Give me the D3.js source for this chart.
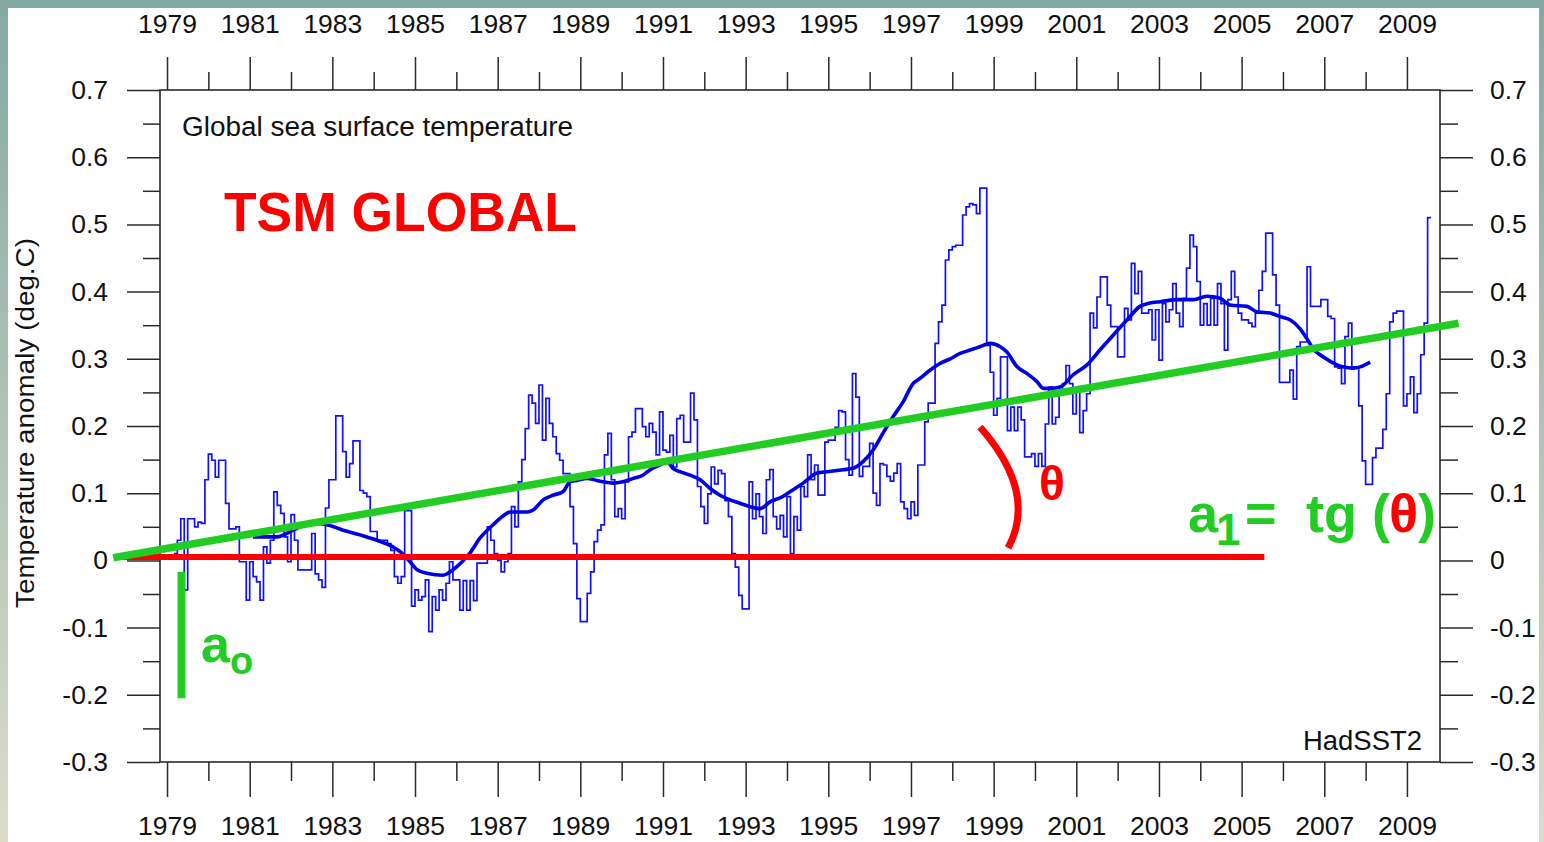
<!DOCTYPE html>
<html>
<head>
<meta charset="utf-8">
<script src="https://cdn.jsdelivr.net/npm/d3@7"></script>
<style>
  html, body { margin: 0; padding: 0; background: #ffffff; }
  svg { display: block; }
  text { font-family: "Liberation Sans", Arial, sans-serif; }
</style>
</head>
<body>
<script>
// HadSST2 global sea surface temperature anomaly (deg C), monthly, from March 1979
const startYear = 1979;
const startMonth = 3;
const sstMonthly = [
  0.01, 0.03, 0.062, -0.044, 0.062, 0.062, 0.05, 0.057, 0.055, 0.12,
  0.158, 0.149, 0.124, 0.149, 0.149, 0.085, 0.047, 0.047, 0.05, -0.002,
  -0.002, -0.059, -0.002, -0.024, -0.032, -0.059, 0.02, -0.004, 0.03, 0.102,
  0.082, 0.07, 0.035, -0.002, 0.068, 0.03, -0.014, -0.014, -0.014, -0.014,
  0.04, -0.02, -0.029, -0.04, 0.078, 0.12, 0.12, 0.215, 0.215, 0.162,
  0.124, 0.144, 0.178, 0.178, 0.104, 0.1, 0.095, 0.043, 0.043, 0.03,
  0.03, 0.03, 0.025, 0.015, -0.024, -0.034, -0.024, 0.074, 0.074, -0.068,
  -0.044, -0.059, -0.054, -0.029, -0.106, -0.054, -0.074, -0.044, -0.059, -0.034,
  -0.002, -0.029, -0.029, -0.074,
  -0.03, -0.074, -0.03, -0.06, -0.004, -0.004, -0.004, 0.05, 0.03, 0.01,
  0.0, -0.017, -0.002, 0.01, 0.08, 0.05, 0.117, 0.15, 0.196, 0.246,
  0.234, 0.204, 0.261, 0.179, 0.241, 0.204, 0.184, 0.159, 0.149, 0.129,
  0.129, 0.08, 0.025, -0.057, -0.091, -0.091, -0.049, -0.017, 0.028, 0.045,
  0.053, 0.157, 0.189, 0.12, 0.065, 0.077, 0.062, 0.117, 0.184, 0.191,
  0.226, 0.226, 0.199, 0.184, 0.204, 0.191, 0.157, 0.221, 0.164, 0.161,
  0.186, 0.139, 0.211, 0.216, 0.176, 0.176, 0.249, 0.209, 0.11, 0.08,
  0.055, 0.099, 0.139, 0.114, 0.134, 0.129, 0.089, 0.065, 0.01, -0.01,
  -0.052, -0.072, -0.072, 0.117, 0.062, 0.099, 0.065,
  0.04, 0.12, 0.135, 0.065, 0.047, 0.067, 0.035, 0.095, 0.01, 0.065,
  0.045, 0.11, 0.095, 0.157, 0.12, 0.142, 0.097, 0.097, 0.176, 0.179,
  0.179, 0.198, 0.223, 0.221, 0.15, 0.127, 0.278, 0.243, 0.125, 0.14,
  0.14, 0.174, 0.1, 0.082, 0.144, 0.142, 0.125, 0.118, 0.13, 0.144,
  0.087, 0.077, 0.062, 0.087, 0.067, 0.142, 0.142, 0.206, 0.234, 0.234,
  0.323, 0.355, 0.38, 0.447, 0.462, 0.467, 0.469, 0.469, 0.514, 0.526,
  0.531, 0.529, 0.516, 0.554, 0.554, 0.32, 0.28, 0.216, 0.241, 0.303,
  0.303, 0.193, 0.228, 0.193, 0.228, 0.209, 0.154, 0.154, 0.159, 0.14,
  0.159, 0.14, 0.203, 0.258, 0.203, 0.213, 0.248,
  0.263, 0.29, 0.263, 0.218, 0.253, 0.19, 0.223, 0.248, 0.368, 0.346,
  0.392, 0.422, 0.422, 0.38, 0.348, 0.348, 0.303, 0.303, 0.375, 0.358,
  0.442, 0.397, 0.43, 0.368, 0.368, 0.373, 0.328, 0.373, 0.298, 0.382,
  0.355, 0.373, 0.412, 0.368, 0.348, 0.39, 0.435, 0.484, 0.467, 0.415,
  0.35, 0.382, 0.35, 0.39, 0.35, 0.412, 0.382, 0.313, 0.388, 0.43,
  0.392, 0.368, 0.358, 0.358, 0.353, 0.348, 0.368, 0.402, 0.43, 0.487,
  0.487, 0.425, 0.38, 0.265, 0.265, 0.265, 0.283, 0.24, 0.318, 0.325,
  0.325, 0.437, 0.378, 0.378, 0.378, 0.388, 0.388, 0.363, 0.36, 0.288,
  0.286, 0.263, 0.333, 0.353, 0.288, 0.288, 0.23, 0.148, 0.113, 0.113,
  0.153, 0.167, 0.167, 0.195, 0.248, 0.355, 0.368, 0.371, 0.371, 0.23,
  0.248, 0.273, 0.22, 0.248, 0.306, 0.353, 0.51
];

// Running mean of the monthly series
const smoothYears = [
  1981.08, 1981.66, 1982.05, 1982.22, 1982.63, 1982.87, 1983.26, 1983.67, 1984.08, 1984.47,
  1984.64, 1984.88, 1985.05, 1985.29, 1985.68, 1985.85, 1986.02, 1986.33, 1986.57, 1986.89,
  1987.13, 1987.30, 1987.71, 1987.86, 1988.10, 1988.34, 1988.58, 1988.75, 1988.92, 1989.16,
  1989.40, 1989.55, 1989.79, 1990.03, 1990.28, 1990.52, 1990.69, 1990.93, 1991.10, 1991.24,
  1991.41, 1991.65, 1991.90, 1992.14, 1992.38, 1992.62, 1992.86, 1993.11, 1993.35, 1993.59,
  1993.90, 1994.07, 1994.39, 1994.73, 1994.97, 1995.36, 1995.60, 1995.84, 1996.08, 1996.32,
  1996.57, 1996.81, 1997.05, 1997.22, 1997.46, 1997.70, 1997.95, 1998.19, 1998.43, 1998.67,
  1998.91, 1999.16, 1999.32, 1999.57, 1999.81, 2000.05, 2000.20, 2000.37, 2000.61, 2000.92,
  2001.26, 2001.57, 2001.89, 2002.23, 2002.54, 2002.78, 2003.03, 2003.44, 2003.83, 2004.16,
  2004.48, 2004.72, 2005.13, 2005.37, 2005.69, 2005.93, 2006.17, 2006.41, 2006.58, 2006.73,
  2006.97, 2007.31, 2007.45, 2007.70, 2007.87, 2008.11
];
const smoothValues = [
  0.035, 0.035, 0.045, 0.050, 0.055, 0.053, 0.045, 0.038, 0.030, 0.020,
  0.013, -0.002, -0.014, -0.019, -0.022, -0.017, -0.009, 0.011, 0.033, 0.053,
  0.066, 0.072, 0.072, 0.075, 0.090, 0.097, 0.102, 0.117, 0.119, 0.122,
  0.119, 0.117, 0.115, 0.117, 0.122, 0.127, 0.135, 0.142, 0.147, 0.137,
  0.132, 0.127, 0.120, 0.107, 0.097, 0.090, 0.085, 0.080, 0.077, 0.087,
  0.095, 0.102, 0.115, 0.130, 0.132, 0.135, 0.137, 0.147, 0.164, 0.189,
  0.214, 0.236, 0.263, 0.271, 0.283, 0.293, 0.300, 0.308, 0.313, 0.318,
  0.323, 0.318, 0.310, 0.288, 0.278, 0.266, 0.256, 0.256, 0.258, 0.276,
  0.291, 0.313, 0.335, 0.358, 0.378, 0.383, 0.385, 0.388, 0.388, 0.393,
  0.390, 0.380, 0.378, 0.370, 0.368, 0.363, 0.358, 0.345, 0.330, 0.315,
  0.303, 0.291, 0.288, 0.286, 0.288, 0.295
];

// Linear trend (green) and horizontal reference (red)
const trendYears = [1977.70, 2010.25];
const trendValues = [0.004, 0.353];
const baseYears = [1977.93, 2005.55];
const baseValue = 0.005;

// Axis ticks
const majorYears = d3.range(1979, 2010, 2);
const minorYears = d3.range(1980, 2009, 2);
const yMajor = [-0.3, -0.2, -0.1, 0, 0.1, 0.2, 0.3, 0.4, 0.5, 0.6, 0.7];
const yMinor = [-0.25, -0.15, -0.05, 0.05, 0.15, 0.25, 0.35, 0.45, 0.55, 0.65];

const W = 1544, H = 842;
const plot = { left: 160, right: 1440, top: 90, bottom: 762 };

const x = d3.scaleLinear().domain([1978.83, 2009.8]).range([plot.left, plot.right]);
const y = d3.scaleLinear().domain([-0.3, 0.7]).range([plot.bottom, plot.top]);

const svg = d3.select("body").append("svg").attr("width", W).attr("height", H);

// Slide frame
const defs = svg.append("defs");
const grad = defs.append("linearGradient").attr("id", "frame").attr("x1", 0).attr("y1", 0).attr("x2", 0).attr("y2", 1);
grad.append("stop").attr("offset", "0%").attr("stop-color", "#84a9a3");
grad.append("stop").attr("offset", "100%").attr("stop-color", "#dcdcc9");
svg.append("rect").attr("width", W).attr("height", H).attr("fill", "url(#frame)");
svg.append("rect").attr("width", W).attr("height", 8).attr("fill", "#84a9a3");
svg.append("rect").attr("x", 8).attr("y", 8).attr("width", 1531).attr("height", H - 8).attr("fill", "#ffffff");

const axisColor = "#2a2a2a";
const fmtY = v => (Math.abs(v) < 1e-9 ? "0" : v.toFixed(1));

function styleAxis(g) {
  g.select(".domain").remove();
  g.selectAll("line").attr("stroke", axisColor).attr("stroke-width", 1.5);
  g.selectAll("text").attr("fill", "#111").attr("font-size", 26.5)
    .attr("font-family", '"Liberation Sans", Arial, sans-serif');
}

// Left axis
svg.append("g").attr("transform", `translate(${plot.left},0)`)
  .call(d3.axisLeft(y).tickValues(yMajor).tickSize(33).tickPadding(19).tickFormat(fmtY)).call(styleAxis);
svg.append("g").attr("transform", `translate(${plot.left},0)`)
  .call(d3.axisLeft(y).tickValues(yMinor).tickSize(17).tickFormat("")).call(styleAxis);
// Right axis
svg.append("g").attr("transform", `translate(${plot.right},0)`)
  .call(d3.axisRight(y).tickValues(yMajor).tickSize(33).tickPadding(17).tickFormat(fmtY)).call(styleAxis);
svg.append("g").attr("transform", `translate(${plot.right},0)`)
  .call(d3.axisRight(y).tickValues(yMinor).tickSize(18).tickFormat("")).call(styleAxis);
// Top axis
svg.append("g").attr("transform", `translate(0,${plot.top})`)
  .call(d3.axisTop(x).tickValues(majorYears).tickSize(33).tickPadding(24).tickFormat(d3.format("d"))).call(styleAxis);
svg.append("g").attr("transform", `translate(0,${plot.top})`)
  .call(d3.axisTop(x).tickValues(minorYears).tickSize(18).tickFormat("")).call(styleAxis);
// Bottom axis
svg.append("g").attr("transform", `translate(0,${plot.bottom})`)
  .call(d3.axisBottom(x).tickValues(majorYears).tickSize(35).tickPadding(19).tickFormat(d3.format("d"))).call(styleAxis);
svg.append("g").attr("transform", `translate(0,${plot.bottom})`)
  .call(d3.axisBottom(x).tickValues(minorYears).tickSize(19).tickFormat("")).call(styleAxis);

// Plot frame
svg.append("rect")
  .attr("x", plot.left).attr("y", plot.top)
  .attr("width", plot.right - plot.left).attr("height", plot.bottom - plot.top)
  .attr("fill", "none").attr("stroke", axisColor).attr("stroke-width", 1.6);

// Y axis title
svg.append("text")
  .attr("transform", "translate(34,423) rotate(-90)")
  .attr("text-anchor", "middle").attr("font-size", 26).attr("fill", "#111")
  .attr("textLength", 370).attr("lengthAdjust", "spacingAndGlyphs")
  .text("Temperature anomaly (deg.C)");

// Titles inside the plot
svg.append("text").attr("x", 182).attr("y", 136).attr("font-size", 27).attr("fill", "#111")
  .attr("textLength", 391).attr("lengthAdjust", "spacingAndGlyphs")
  .text("Global sea surface temperature");
svg.append("text").attr("x", 1422).attr("y", 750).attr("text-anchor", "end")
  .attr("font-size", 27).attr("fill", "#111")
  .attr("textLength", 119).attr("lengthAdjust", "spacingAndGlyphs")
  .text("HadSST2");
svg.append("text").attr("x", 224).attr("y", 231).attr("font-size", 55).attr("font-weight", "bold")
  .attr("fill", "#ff0000").attr("textLength", 353).attr("lengthAdjust", "spacingAndGlyphs")
  .text("TSM GLOBAL");

// Monthly series as steps
const monthYear = i => startYear + (startMonth - 1 + i) / 12;
const steps = sstMonthly.map((v, i) => [monthYear(i), v]);
steps.push([monthYear(sstMonthly.length), sstMonthly[sstMonthly.length - 1]]);
const stepLine = d3.line().x(d => x(d[0])).y(d => y(d[1])).curve(d3.curveStepAfter);
svg.append("path").datum(steps)
  .attr("d", stepLine).attr("fill", "none")
  .attr("stroke", "#1010ff").attr("stroke-width", 1.7);

// Running mean
const smoothLine = d3.line().x((d, i) => x(smoothYears[i])).y(d => y(d)).curve(d3.curveMonotoneX);
svg.append("path").datum(smoothValues)
  .attr("d", smoothLine).attr("fill", "none")
  .attr("stroke", "#0000e6").attr("stroke-width", 3.6).attr("stroke-linejoin", "round");

const green = "#22cc22", red = "#ff0000";

// Horizontal reference line
svg.append("line")
  .attr("x1", x(baseYears[0])).attr("x2", x(baseYears[1]))
  .attr("y1", y(baseValue)).attr("y2", y(baseValue))
  .attr("stroke", red).attr("stroke-width", 6);

// Trend line
svg.append("line")
  .attr("x1", x(trendYears[0])).attr("y1", y(trendValues[0]))
  .attr("x2", x(trendYears[1])).attr("y2", y(trendValues[1]))
  .attr("stroke", green).attr("stroke-width", 7.5);

// Intercept marker a0
const a0Years = 1979.35, a0Values = [-0.017, -0.205];
svg.append("line")
  .attr("x1", x(a0Years)).attr("x2", x(a0Years))
  .attr("y1", y(a0Values[0])).attr("y2", y(a0Values[1]))
  .attr("stroke", green).attr("stroke-width", 8);
const a0Text = svg.append("text").attr("x", 201).attr("y", 662)
  .attr("font-size", 52).attr("font-weight", "bold").attr("fill", green);
a0Text.append("tspan").text("a");
a0Text.append("tspan").attr("font-size", 38).attr("dy", 12).text("o");

// Angle arc between the reference line and the trend
const arcPts = [[1998.67, 0.1985], [2000.07, 0.101], [1999.35, 0.0185]];
const arcPath = d3.path();
arcPath.moveTo(x(arcPts[0][0]), y(arcPts[0][1]));
arcPath.quadraticCurveTo(x(arcPts[1][0]), y(arcPts[1][1]), x(arcPts[2][0]), y(arcPts[2][1]));
svg.append("path").attr("d", arcPath.toString()).attr("fill", "none")
  .attr("stroke", red).attr("stroke-width", 7);
svg.append("text").attr("x", 1052).attr("y", 500).attr("text-anchor", "middle")
  .attr("font-size", 48).attr("font-weight", "bold").attr("fill", red).text("θ");

// Slope label
const slope = svg.append("g").attr("font-size", 54).attr("font-weight", "bold").attr("fill", green);
slope.append("text").attr("x", 1188).attr("y", 532).text("a");
slope.append("text").attr("x", 1216).attr("y", 545).attr("font-size", 44).text("1");
slope.append("text").attr("x", 1245).attr("y", 532).text("=");
slope.append("text").attr("x", 1306).attr("y", 532).text("tg");
slope.append("text").attr("x", 1372).attr("y", 532).text("(");
slope.append("text").attr("x", 1389).attr("y", 532).attr("fill", red).text("θ");
slope.append("text").attr("x", 1418).attr("y", 532).text(")");
</script>
</body>
</html>
